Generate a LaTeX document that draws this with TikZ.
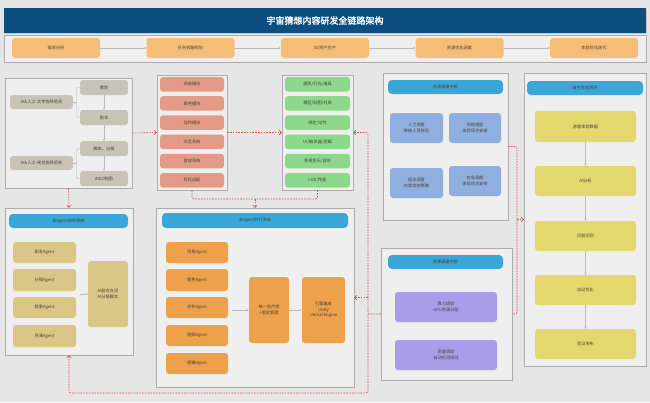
\documentclass[tikz,border=0pt]{standalone}
\usepackage{fontspec}
\setmainfont{Noto Sans CJK SC}
\newfontfamily\titlefont[FakeBold=2]{Noto Sans CJK SC}
\usetikzlibrary{shadows,arrows.meta,calc}
\definecolor{bgc}{HTML}{E6E6E6}
\definecolor{grpc}{HTML}{EFEFEF}
\definecolor{titlec}{HTML}{0C4E7F}
\definecolor{hdrc}{HTML}{3BA6D8}
\definecolor{topc}{HTML}{F5BD76}
\definecolor{greyc}{HTML}{C9C2B7}
\definecolor{redc}{HTML}{E39B88}
\definecolor{greenc}{HTML}{8DD98B}
\definecolor{bluec}{HTML}{8FAFDF}
\definecolor{yellowc}{HTML}{E3D86D}
\definecolor{tanc}{HTML}{DAC686}
\definecolor{orangec}{HTML}{EDA14A}
\definecolor{purplec}{HTML}{AA9DE8}
\definecolor{dashc}{HTML}{D2524C}
\definecolor{txt}{HTML}{4A4038}
\newcommand\bx[7]{\node[#6, minimum width={(#4-(#2))*1pt}, minimum height={(#5-(#3))*1pt}] (#1) at ({(#2+#4)/2},{(#3+#5)/2}) {#7};}
\tikzset{
  every node/.style={inner sep=0pt, align=center, text=txt, font=\fontsize{4.2}{5.4}\selectfont},
  grp/.style={draw=gray!65, line width=0.5pt, fill=grpc, drop shadow={shadow xshift=1.3pt, shadow yshift=-1.3pt, opacity=0.35}},
  titlebar/.style={fill=titlec, text=white, drop shadow={shadow xshift=1pt, shadow yshift=-1pt, opacity=0.3}},
  hdr/.style={fill=hdrc, rounded corners=4pt, text=black!75},
  item/.style={rounded corners=3pt},
  topbox/.style={item, fill=topc},
  greybox/.style={item, fill=greyc},
  redbox/.style={item, fill=redc},
  greenbox/.style={item, fill=greenc},
  bluebox/.style={item, fill=bluec},
  yellowbox/.style={item, fill=yellowc},
  tanbox/.style={item, fill=tanc},
  orangebox/.style={item, fill=orangec},
  purplebox/.style={item, fill=purplec},
  gline/.style={draw=gray!55, line width=0.45pt, -{Stealth[length=2.2pt,width=2.2pt]}},
  pline/.style={draw=gray!55, line width=0.45pt, rounded corners=2pt},
  dashr/.style={draw=dashc, line width=0.6pt, dash pattern=on 1.6pt off 1.2pt, rounded corners=2pt},
  dasharr/.style={dashr, -{Straight Barb[length=2.2pt,width=4.5pt]}}
}
\begin{document}
\begin{tikzpicture}[x=1pt,y=-1pt]
\fill[bgc] (0,0) rectangle (650,402);
\useasboundingbox (0,0) rectangle (650,402);
% title and top row
\bx{title}{4}{8}{646}{33}{titlebar}{\titlefont\fontsize{9}{10}\selectfont 宇宙猜想内容研发全链路架构}
\bx{topf}{4}{35}{646}{62}{grp}{}
\bx{t1}{12}{38}{100}{58}{topbox}{需求分析}
\bx{t2}{146.5}{38}{234.5}{58}{topbox}{任务拆解规划}
\bx{t3}{281}{38}{369}{58}{topbox}{3D资产生产}
\bx{t4}{415.5}{38}{503.5}{58}{topbox}{资源优化调度}
\bx{t5}{550}{38}{638}{58}{topbox}{体验优化迭代}
\draw[gline] (t1) -- (t2);
\draw[gline] (t2) -- (t3);
\draw[gline] (t3) -- (t4);
\draw[gline] (t4) -- (t5);
% group A
\bx{A}{5}{78}{132}{188}{grp}{}
\bx{l1}{10}{95}{73}{109}{greybox}{AI\&人工-文学指导把关}
\bx{l2}{10}{156}{73}{170}{greybox}{AI\&人工-视觉指导把关}
\bx{p1}{80}{80}{128}{95}{greybox}{策划}
\bx{p2}{80}{110}{128}{125}{greybox}{剧本}
\bx{p3}{80}{141}{128}{156}{greybox}{脚本、分镜}
\bx{p4}{80}{171}{128}{186}{greybox}{AIGC制图}
\coordinate (b1) at (76.5,102);
\coordinate (b2) at (76.5,163);
\draw[pline] (p1.west) -| (b1) |- (p2.west);
\draw[pline] (l1.east) -- (b1);
\draw[pline] (p3.west) -| (b2) |- (p4.west);
\draw[pline] (l2.east) -- (b2);
\draw[gline] (p1) -- (p2);
\draw[gline] (p2) -- (p3);
\draw[gline] (p3) -- (p4);
% group R
\bx{R}{157}{75}{227}{190}{grp}{}
\bx{r1}{160}{77}{224}{91.5}{redbox}{场景模块}
\bx{r2}{160}{96.2}{224}{110.7}{redbox}{角色模块}
\bx{r3}{160}{115.4}{224}{129.9}{redbox}{动作模块}
\bx{r4}{160}{134.6}{224}{149.1}{redbox}{交互系统}
\bx{r5}{160}{153.8}{224}{168.3}{redbox}{音效系统}
\bx{r6}{160}{173}{224}{187.5}{redbox}{优化适配}
% group G
\bx{G}{282}{75}{353}{190}{grp}{}
\bx{g1}{285}{77}{350}{91.5}{greenbox}{建筑/灯光/道具}
\bx{g2}{285}{96.2}{350}{110.7}{greenbox}{模型/贴图/材质}
\bx{g3}{285}{115.4}{350}{129.9}{greenbox}{绑定/动作}
\bx{g4}{285}{134.6}{350}{149.1}{greenbox}{UI/触发器/逻辑}
\bx{g5}{285}{153.8}{350}{168.3}{greenbox}{背景音乐/音效}
\bx{g6}{285}{173}{350}{187.5}{greenbox}{LOD/性能}
% group TR
\bx{TR}{383}{73}{508}{220}{grp}{}
\bx{trh}{388}{80}{503}{94}{hdr}{资源调度中枢}
\bx{s1}{390}{113}{443}{143}{bluebox}{人力调度\\审核人员排班}
\bx{s2}{449}{113}{501}{143}{bluebox}{场馆调度\\体验场次安排}
\bx{s3}{390}{168}{443}{198}{bluebox}{版本调度\\灰度发布策略}
\bx{s4}{449}{166}{501}{196}{bluebox}{应急调度\\体验场次安排}
% group RC
\bx{RC}{524}{73}{646}{366}{grp}{}
\bx{rch}{527}{81}{643}{95}{hdr}{自主优化闭环}
\bx{y1}{535}{111}{636}{142}{yellowbox}{游客体验数据}
\bx{y2}{535}{166}{636}{196}{yellowbox}{AI分析}
\bx{y3}{535}{221}{636}{251}{yellowbox}{问题识别}
\bx{y4}{535}{275}{636}{305}{yellowbox}{自动优化}
\bx{y5}{535}{329}{636}{359}{yellowbox}{验证发布}
\draw[gline] (y1) -- (y2);
\draw[gline] (y2) -- (y3);
\draw[gline] (y3) -- (y4);
\draw[gline] (y4) -- (y5);
% group BL
\bx{BL}{5}{208}{133}{355}{grp}{}
\bx{blh}{9}{214}{128}{228}{hdr}{多Agent协作系统}
\bx{a1}{13}{242}{76}{263}{tanbox}{剧本Agent}
\bx{a2}{13}{269}{76}{291}{tanbox}{分镜Agent}
\bx{a3}{13}{297}{76}{318}{tanbox}{叙事Agent}
\bx{a4}{13}{325}{76}{347}{tanbox}{导演Agent}
\bx{ab}{88}{261}{128}{327}{tanbox}{AI剧本台词\\AI分镜脚本}
\coordinate (ba) at (80,294);
\draw[gline] (ba) -- (ab.west);
% group BM
\bx{BM}{156}{208}{354}{387}{grp}{}
\bx{bmh}{162}{213}{348}{228}{hdr}{多Agent并行系统}
\bx{o1}{166}{242}{228}{263}{orangebox}{场景Agent}
\bx{o2}{166}{269}{228}{291}{orangebox}{角色Agent}
\bx{o3}{166}{297}{228}{318}{orangebox}{动作Agent}
\bx{o4}{166}{325}{228}{346}{orangebox}{音频Agent}
\bx{o5}{166}{353}{228}{374}{orangebox}{逻辑Agent}
\bx{asset}{249}{277}{289}{343}{orangebox}{统一资产库\\+版本管理}
\bx{engine}{302}{277}{345}{343}{orangebox}{引擎集成\\Unity\\Unreal Engine}
\coordinate (bm0) at (232,310);
\draw[gline] (bm0) -- (asset.west);
\draw[gline] (asset) -- (engine);
% group BR
\bx{BR}{381}{248}{512}{380}{grp}{}
\bx{brh}{388}{255}{503}{269}{hdr}{资源调度中枢}
\bx{q1}{395}{292}{497}{322}{purplebox}{算力调度\\GPU资源分配}
\bx{q2}{395}{340}{497}{370}{purplebox}{质量调度\\自动检测规则}
% dashed connectors
\draw[dasharr] (A.east) -- (R.west);
\draw[dasharr] (R.east) -- (G.west);
\draw[dasharr] (A.south) -- (BL.north);
\coordinate (j1) at (255,199);
\draw[dashr] (r6 |- R.south) |- (j1);
\draw[dashr] (g6 |- G.south) |- (j1);
\draw[dasharr] (j1) -- (BM.north);
\coordinate (v1) at (368,314);
\coordinate (v3) at (368,393);
\draw[dasharr] (BR.west) -- (v1) |- (G.east);
\draw[dasharr] (v1 |- BM.east) -- (BM.east);
\draw[dasharr] (v1) -- (v3) -| (BL.south);
\coordinate (v4) at (517,314);
\draw[dashr] (TR.east) -| (v4) -- (BR.east);
\draw[dasharr] (v4 |- RC.west) -- (RC.west);
\end{tikzpicture}
\end{document}
